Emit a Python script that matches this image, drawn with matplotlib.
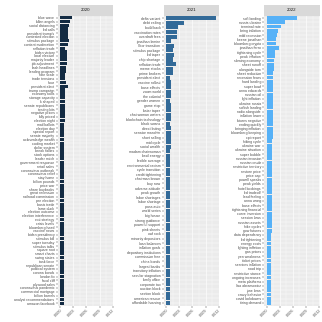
import matplotlib
matplotlib.use("Agg")
import matplotlib.pyplot as plt
import numpy as np

# ---- data ----
years = ["2020", "2021", "2022"]

terms_2020 = [
    "blue wave", "fallen angels", "social distancing", "fed calls", "president trump's",
    "contested election", "stimulus package", "content moderation", "reflation trade",
    "biden victory", "local election", "majority leader", "job adjustment", "flash headlines",
    "lending program", "rate scale", "trade tensions", "hour", "president elect",
    "trump campaign", "economy tools", "storage capacity", "k shaped", "senate republicans",
    "testing kits", "negative prices", "fully priced", "election night", "mail ballots",
    "election day", "special report", "senate majority", "acknowledge wealth", "cooling market",
    "dollar system", "break rallies", "stock options", "leader mitch", "government response",
    "retail sales", "coronavirus outbreak", "coronavirus relief", "stay home", "billion pounds",
    "price war", "share buybacks", "great recession", "railroad commission", "pre election",
    "basis trade", "lame duck", "election outcome", "election interference", "exit strategy",
    "crisis levels", "bloomberg head", "vaccine news", "biden presidency", "stimulus bill",
    "super tuesday", "stimulus talks", "square root", "smart charts", "swing states",
    "task force", "republican senate", "political system", "corona bonds", "london fix",
    "fiscal cliff", "plywood sales", "coronavirus pandemic", "commercial mortgage",
    "billion barrels", "analyst recommendations", "amazon facebook",
]
vals_2020 = [
    0.0027, 0.0022, 0.0021, 0.0019, 0.0019, 0.0018, 0.0021, 0.0019, 0.0012, 0.0016,
    0.0016, 0.0015, 0.0015, 0.0014, 0.0014, 0.0012, 0.0012, 0.0013, 0.0018, 0.0011,
    0.0011, 0.0011, 0.0011, 0.0011, 0.0011, 0.0011, 0.0011, 0.0011, 0.0010, 0.0010,
    0.0010, 0.0010, 0.0010, 0.0010, 0.0010, 0.0010, 0.0010, 0.0010, 0.0010, 0.0010,
    0.0010, 0.0010, 0.0010, 0.0010, 0.0010, 0.0010, 0.0010, 0.0010, 0.0010, 0.0010,
    0.0010, 0.0010, 0.0010, 0.0010, 0.0010, 0.0010, 0.0010, 0.0010, 0.0009, 0.0009,
    0.0009, 0.0009, 0.0009, 0.0009, 0.0009, 0.0009, 0.0009, 0.0009, 0.0009, 0.0009,
    0.0009, 0.0009, 0.0009, 0.0009, 0.0009, 0.0009,
]

terms_2021 = [
    "delta variant", "debt ceiling", "build back", "vaccination rates", "overdraft fees",
    "jonathan lemire", "libor transition", "stimulus package", "fed taper", "chip shortage",
    "reflation trade", "meme stocks", "prime brokers", "president elect", "vaccine rollout",
    "base effects", "zoom world", "the colonial", "gender women", "game stop", "faster taper",
    "chairwoman waters", "blockchain technology", "black swans", "direct listing",
    "senator manchin", "short selling", "mid cycle", "social wealth", "madam chairwoman",
    "fossil energy", "flexible average", "environmental racism", "cycle transition",
    "credit tightening", "chairman brown", "buy now", "adverse attitude", "peak growth",
    "labor shortages", "labor shortage", "pass auto", "world series", "big house",
    "strong guidance", "powerful support", "pink sheets", "owl rock", "minority depositors",
    "loan balances", "inflation goals", "depository institutions", "commission free",
    "china bonds", "largest banks", "transitory inflation", "secular stagnation",
    "family office", "corporate tax", "auction block", "section block", "american rescue",
    "affordable housing",
]
vals_2021 = [
    0.0115, 0.0042, 0.0028, 0.0025, 0.0024, 0.0012, 0.0019, 0.0015, 0.0018, 0.0017,
    0.0022, 0.0015, 0.0015, 0.0009, 0.0011, 0.0011, 0.0011, 0.0011, 0.0010, 0.0011,
    0.0011, 0.0011, 0.0011, 0.0010, 0.0011, 0.0011, 0.0012, 0.0011, 0.0011, 0.0010,
    0.0010, 0.0009, 0.0009, 0.0009, 0.0009, 0.0009, 0.0009, 0.0009, 0.0009, 0.0009,
    0.0009, 0.0009, 0.0009, 0.0009, 0.0009, 0.0009, 0.0009, 0.0009, 0.0008, 0.0008,
    0.0008, 0.0008, 0.0008, 0.0008, 0.0008, 0.0008, 0.0008, 0.0008, 0.0008, 0.0008,
    0.0008, 0.0008, 0.0008,
]

terms_2022 = [
    "soft landing", "russia ukraine", "terminal rate", "bring inflation", "mild recession",
    "keene jonathan", "bloomberg crypto", "jonathan ferro", "tightening cycle",
    "peak inflation", "slowing economy", "sheet runoff", "alongside tom", "sheet reduction",
    "recession fears", "hard landing", "super bowl", "anna edwards", "russian oil",
    "fight inflation", "ukraine russia", "softish landing", "radio alongside",
    "inflation lower", "futures negative", "ending quickly", "bringing inflation",
    "bloomberg keeping", "cpi report", "hiking cycle", "ukraine war", "ukraine situation",
    "super bubble", "russian invasion", "russian crude", "restrictive territory",
    "restore price", "price cap", "powell speaks", "peak yields", "hotel bookings",
    "fed tradeoff", "lead feeling", "anna wong", "base effects", "tightening financial",
    "curve inversion", "session lows", "russian assets", "hike cycles", "gow futures",
    "data dependency", "fed tightening", "energy costs", "fighting inflation", "gas prices",
    "yen weakness", "ticket prices", "services inflation", "road trip", "restrictive stance",
    "ongoing increases", "meta platforms", "lisa abramowicz", "june lows", "crazy behavior",
    "covid lockdowns", "tiring demand",
]
vals_2022 = [
    0.0069, 0.0042, 0.0032, 0.0027, 0.0023, 0.0021, 0.0021, 0.0029, 0.0019, 0.0019,
    0.0017, 0.0016, 0.0016, 0.00155, 0.00155, 0.0015, 0.0014, 0.0014, 0.0014, 0.0014,
    0.0014, 0.0014, 0.0014, 0.0014, 0.0014, 0.0014, 0.0014, 0.0014, 0.0014, 0.0013,
    0.0013, 0.0013, 0.0013, 0.0013, 0.0012, 0.0012, 0.0012, 0.0012, 0.0012, 0.0012,
    0.0012, 0.0012, 0.0012, 0.0012, 0.0012, 0.0012, 0.0012, 0.0012, 0.0012, 0.0012,
    0.0012, 0.0011, 0.0011, 0.0011, 0.0011, 0.0011, 0.0011, 0.0011, 0.0011, 0.0011,
    0.0011, 0.0011, 0.0011, 0.0011, 0.0011, 0.0011, 0.0011, 0.0011,
]

terms = [terms_2020, terms_2021, terms_2022]
vals = [vals_2020, vals_2021, vals_2022]
colors = ["#132B43", "#336A98", "#56B1F7"]
xticks = [0.000, 0.003, 0.006, 0.009, 0.012]

# ---- layout (pixels, figure is 322x322) ----
W = H = 322
plt.rcParams["font.family"] = ["Liberation Sans", "DejaVu Sans"]
fig = plt.figure(figsize=(W / 100, H / 100), dpi=100)

lefts = [57.5, 163.5, 264.0]
pw = 55.5
ptop, pbot = 15.5, 305.5
stop = 4.5

vmax = max(max(v) for v in vals)
xlim = (-0.05 * vmax, 1.05 * vmax)

for i in range(3):
    l = lefts[i]
    ax = fig.add_axes([l / W, 1 - pbot / H, pw / W, (pbot - ptop) / H])
    n = len(terms[i])
    y = np.arange(n)
    ax.set_facecolor("#EBEBEB")
    ax.barh(y, vals[i], height=0.9, color=colors[i], zorder=3)
    ax.set_xlim(*xlim)
    ax.set_ylim(n - 1 + 0.6, -0.6)
    ax.set_yticks(y)
    ax.set_yticklabels(terms[i], fontsize=2.5, color="#4D4D4D")
    ax.set_xticks(xticks)
    ax.set_xticklabels(["%.3f" % t for t in xticks], fontsize=2.7, color="#4D4D4D",
                       rotation=45, ha="right", va="top", rotation_mode="anchor")
    ax.set_xticks([0.0015, 0.0045, 0.0075, 0.0105], minor=True)
    ax.tick_params(axis="both", which="major", length=1.4, width=0.3, color="#333333", pad=0.8)
    ax.tick_params(axis="both", which="minor", length=0)
    ax.grid(True, which="major", axis="x", color="white", linewidth=0.45, zorder=0)
    ax.grid(True, which="major", axis="y", color="white", linewidth=0.3, zorder=0)
    ax.grid(True, which="minor", axis="x", color="white", linewidth=0.22, zorder=0)
    ax.set_axisbelow(True)
    for s in ax.spines.values():
        s.set_visible(False)

    # facet strip
    st = fig.add_axes([l / W, 1 - ptop / H, pw / W, (ptop - stop) / H])
    st.set_facecolor("#D9D9D9")
    st.set_xticks([])
    st.set_yticks([])
    for s in st.spines.values():
        s.set_visible(False)
    st.text(0.5, 0.5, years[i], ha="center", va="center", fontsize=3.2, color="#1A1A1A",
            transform=st.transAxes)

fig.savefig("out.png", dpi=100, facecolor="white")
